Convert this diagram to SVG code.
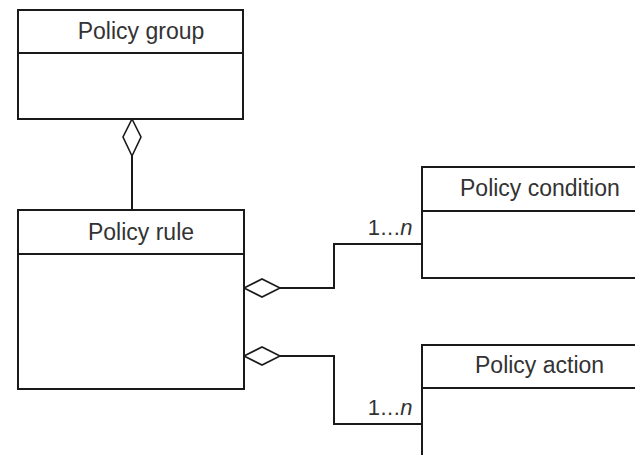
<svg xmlns="http://www.w3.org/2000/svg" width="635" height="455" viewBox="0 0 635 455">
  <style>
    .box { fill: #ffffff; stroke: #1a1a1a; stroke-width: 2; }
    .sep { stroke: #1a1a1a; stroke-width: 2; }
    .title { font-family: "Liberation Sans", Arial, sans-serif; font-size: 23px; fill: #333333; }
    .wire { fill: none; stroke: #1a1a1a; stroke-width: 2; }
    .agg { fill: #ffffff; stroke: #1a1a1a; stroke-width: 1.6; }
    .mult { font-family: "Liberation Sans", Arial, sans-serif; font-size: 22px; fill: #333333; letter-spacing: 0.5px; }
  </style>
  <rect width="635" height="455" fill="#ffffff"/>

  <!-- connectors -->
  <g id="connectors">
    <!-- group aggregates rule -->
    <line class="wire" x1="132" y1="156" x2="132" y2="210"/>
    <polygon class="agg" points="132,119 141,137 132,156 123,137"/>
    <!-- rule aggregates condition -->
    <polyline class="wire" points="280,288 334,288 334,244 422,244"/>
    <polygon class="agg" points="244,288 262,279 280,288 262,297"/>
    <text class="mult" x="413" y="235" text-anchor="end">1...<tspan font-style="italic">n</tspan></text>
    <!-- rule aggregates action -->
    <polyline class="wire" points="280,356 334,356 334,424 422,424"/>
    <polygon class="agg" points="244,356 262,347 280,356 262,365"/>
    <text class="mult" x="413" y="415" text-anchor="end">1...<tspan font-style="italic">n</tspan></text>
  </g>

  <g id="policy-group">
    <rect class="box" x="18" y="10" width="225" height="109"/>
    <line class="sep" x1="18" y1="53" x2="243" y2="53"/>
    <text class="title" x="141" y="39" text-anchor="middle">Policy group</text>
  </g>

  <g id="policy-rule">
    <rect class="box" x="18" y="210" width="226" height="179"/>
    <line class="sep" x1="18" y1="254" x2="244" y2="254"/>
    <text class="title" x="141" y="240" text-anchor="middle">Policy rule</text>
  </g>

  <g id="policy-condition">
    <rect class="box" x="422" y="167" width="240" height="111"/>
    <line class="sep" x1="422" y1="211" x2="662" y2="211"/>
    <text class="title" x="460" y="196">Policy condition</text>
  </g>

  <g id="policy-action">
    <rect class="box" x="422" y="345" width="240" height="130"/>
    <line class="sep" x1="422" y1="388" x2="662" y2="388"/>
    <text class="title" x="475" y="373">Policy action</text>
  </g>
</svg>
